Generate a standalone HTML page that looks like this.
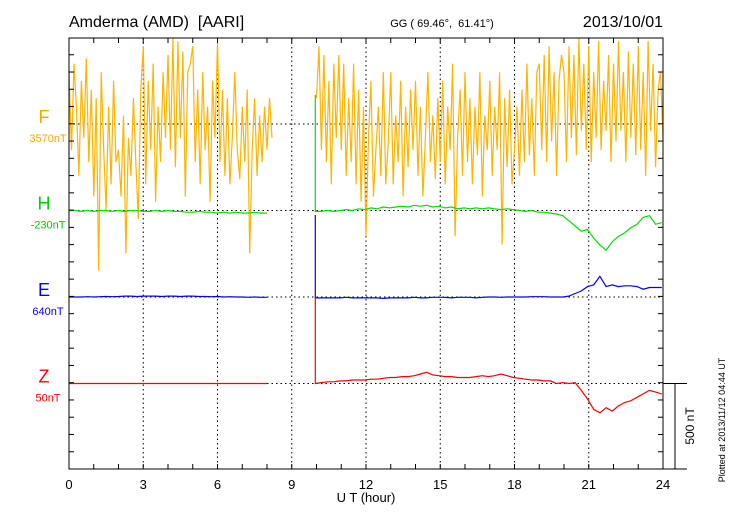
<!DOCTYPE html>
<html><head><meta charset="utf-8"><style>
body{margin:0;background:#fff}
svg{display:block;font-family:"Liberation Sans",sans-serif}
</style></head><body>
<svg id="chart" width="730" height="520" viewBox="0 0 730 520" xmlns="http://www.w3.org/2000/svg">
<defs><clipPath id="clip"><rect x="69" y="38" width="594" height="431"/></clipPath></defs>
<text x="69" y="27" font-size="16" xml:space="preserve">Amderma (AMD)  [AARI]</text>
<text x="442" y="27" font-size="11" text-anchor="middle" xml:space="preserve">GG ( 69.46°,  61.41°)</text>
<text x="663" y="27" font-size="16" text-anchor="end">2013/10/01</text>
<text x="366" y="502" font-size="13" text-anchor="middle">U T (hour)</text>
<text transform="translate(725,420) rotate(-90)" font-size="9" text-anchor="middle">Plotted at 2013/11/12 04:44 UT</text>
<text transform="translate(694,426) rotate(-90)" font-size="12" text-anchor="middle">500 nT</text>
<g id="g"></g>
</svg>
<script>
const xTicks=[0,3,6,9,12,15,18,21,24];
const labels=['F','H','E','Z'];
const baseLabels=['3570nT','-230nT','640nT','50nT'];
const colors=['#ffb400','#00e000','#0000ff','#ff0000'];
const textColors=['#f5a800','#00d000','#0000ff','#ff0000'];
const fSeg1=[300,-150,350,100,-300,250,-80,380,-220,200,
-420,150,-850,300,-150,-500,100,-350,250,-220,
-150,-420,50,-750,-80,-300,150,-220,-550,200,
450,-350,250,-150,350,-450,100,-220,300,-80,
400,-150,500,-250,480,-80,420,-420,300,350,
450,-220,200,-350,300,-150,100,-450,250,-80,
480,-220,200,-300,150,-350,-80,300,-150,-320,
100,-220,200,-750,-150,150,-300,50,-220,100,
-150,150,-80];
const fSeg2=[150,450,-150,400,-220,250,-350,350,-80,400,
-150,350,-300,150,-220,350,-350,200,-450,100,
-650,-80,250,-420,-150,100,-300,300,-350,-100,
300,-350,50,-220,250,-420,100,-250,200,-150,
250,-300,100,-420,-80,300,-220,50,-320,150,
-220,250,-350,100,-150,350,-650,-80,200,-300,
300,-220,150,-350,100,-180,300,-420,50,-150,
250,-300,100,-150,300,-700,150,-250,200,-350,
-150,100,-300,200,-220,350,-180,150,-300,300,
350,-150,400,-220,450,-100,300,-300,250,400,
300,-220,450,-80,400,-180,500,-40,350,-150,
450,-220,300,-80,480,-150,250,-40,400,-220,
350,-100,480,-40,300,-220,420,-80,350,-180,
450,-150,300,-300,480,-40,350,-250,200,300,-80];
const hSeg1=[0,0,-5,0,-5,0,0,-5,0,-5,0,0,-5,-5,0,-5,0,-5,-5,-10,-10,-5,-10,-10,-15,-10,-15,-10,-15,-15,-10,-15,-15];
const hSeg2=[-5,-5,0,-5,0,5,0,10,5,15,10,20,15,20,25,20,30,25,30,20,25,15,20,10,15,10,15,10,15,10,5,10,5,0,-5,0,-10,-10,-15,-20,-30,-60,-90,-120,-110,-160,-200,-230,-180,-150,-130,-100,-80,-40,-30,-80,-70];
const eSeg1=[0,0,0,2,0,2,3,2,3,5,5,3,5,5,5,3,5,5,3,5,5,3,3,2,3,0,2,0,0,-2,0,-2,-2];
const eSeg2=[-5,-5,-5,-5,-5,-2,-5,-5,-5,-5,-5,-8,-5,-5,-5,-5,-2,-5,-5,-2,-2,-2,-5,-2,-2,-2,-5,-2,0,0,-2,0,0,0,0,2,2,2,0,0,0,5,20,35,60,70,120,60,70,60,65,65,60,45,55,55,55];
const zSeg1=[0,0,0,0,0,0,0,0,0,0,0,0,0,0,0,0,0,0,0,0,0,0,0,0,0,0,0,0,0,0,0,0,0];
const zSeg2=[0,5,10,10,15,15,20,20,20,25,25,30,35,35,40,40,45,55,65,50,45,40,40,35,35,35,40,45,40,45,55,45,35,30,25,20,20,15,15,0,5,0,5,-40,-90,-150,-170,-140,-160,-130,-110,-100,-80,-60,-40,-50,-60];
const spikeStart=[0,670,475,500];

const X0=69,X1=663,Y0=38,Y1=469;
const bases=[124,210.5,297,383.5];
const pxPerNT=86.3/500;
const xs=h=>X0+(X1-X0)*h/24;
const ys=(i,v)=>bases[i]-v*pxPerNT;
const g=document.getElementById('g');
const NS='http://www.w3.org/2000/svg';
function mk(t,a){const e=document.createElementNS(NS,t);for(const k in a)e.setAttribute(k,a[k]);g.appendChild(e);return e;}

xTicks.slice(1,-1).forEach(h=>{const l=mk('line',{x1:xs(h),x2:xs(h),y1:Y0,y2:Y1,stroke:'#000','stroke-width':1,'stroke-dasharray':'1.5,3'});

});
bases.forEach(b=>{const l=mk('line',{x1:X0,x2:X1,y1:b,y2:b,stroke:'#000','stroke-width':1,'stroke-dasharray':'1.5,3'});

});

function seg(i,t0,step,arr,sp){
  let pts=[];
  if(sp)pts.push([xs(t0),ys(i,sp)]);
  arr.forEach((v,k)=>pts.push([xs(t0+k*step),ys(i,v)]));
  const p=mk('polyline',{points:pts.map(p=>p[0].toFixed(1)+','+p[1].toFixed(1)).join(' '),fill:'none',stroke:colors[i],'stroke-width':1.2,'clip-path':'url(#clip)'});
  
  
}
seg(0,0,0.1,fSeg1);seg(0,10,0.1,fSeg2);
seg(1,0,0.25,hSeg1);seg(1,9.95,0.25,hSeg2,spikeStart[1]);
seg(2,0,0.25,eSeg1);seg(2,9.95,0.25,eSeg2,spikeStart[2]);
seg(3,0,0.25,zSeg1);seg(3,9.95,0.25,zSeg2,spikeStart[3]);

const fr=mk('rect',{x:X0,y:Y0,width:X1-X0,height:Y1-Y0,fill:'none',stroke:'#000','stroke-width':1});


for(let h=0;h<=24;h++){
  mk('line',{x1:xs(h),x2:xs(h),y1:Y0,y2:Y0+5,stroke:'#000'});
  mk('line',{x1:xs(h),x2:xs(h),y1:Y1,y2:Y1-5,stroke:'#000'});
}
xTicks.forEach(h=>{const t=mk('text',{x:xs(h),y:489,'font-size':13,'text-anchor':'middle'});t.textContent=h;

});
for(let y=Y1;y>=Y0;y-=86.3/5){
  mk('line',{x1:X0,x2:X0+5,y1:y,y2:y,stroke:'#000'});
  mk('line',{x1:X1,x2:X1-5,y1:y,y2:y,stroke:'#000'});
}
labels.forEach((l,i)=>{
  const t=mk('text',{x:44,y:bases[i]-1,'font-size':18,fill:textColors[i],'text-anchor':'middle'});t.textContent=l;
  
  
  const b=mk('text',{x:48,y:bases[i]+18,'font-size':11,fill:textColors[i],'text-anchor':'middle'});b.textContent=baseLabels[i];
  
  
});
const sb=mk('path',{d:`M${X1},383.5H687M675,383.5V469M${X1},469H687`,fill:'none',stroke:'#000'});


</script>
</body></html>
